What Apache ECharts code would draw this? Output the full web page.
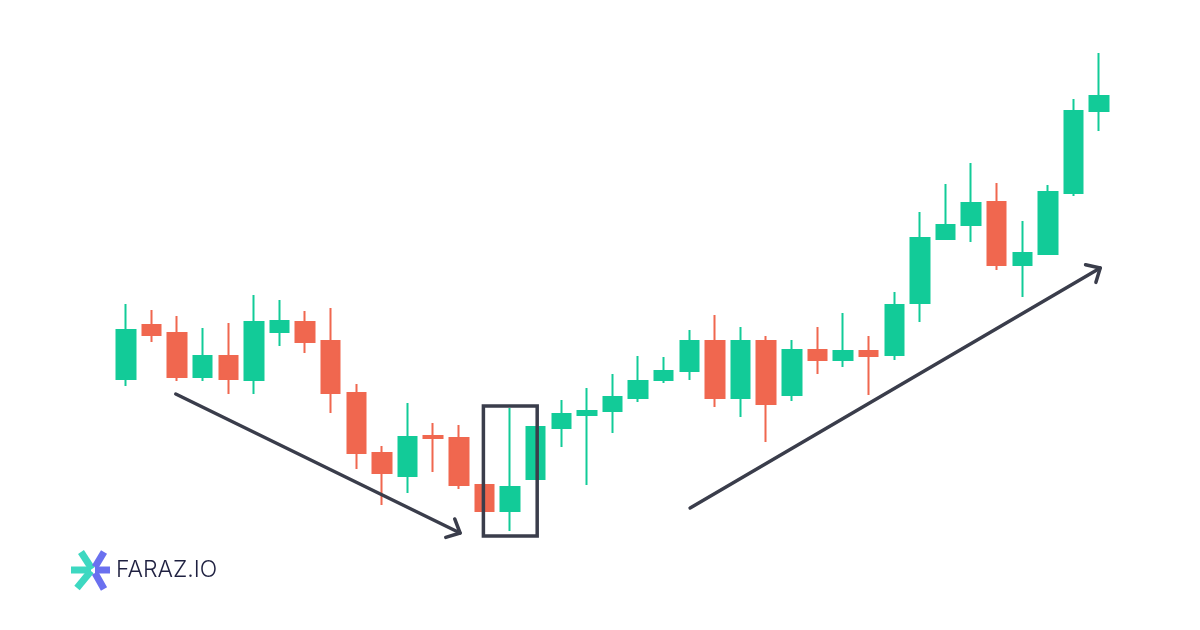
<!DOCTYPE html>
<html>
<head>
<meta charset="utf-8">
<script src="https://cdn.jsdelivr.net/npm/echarts@6/dist/echarts.min.js"></script>
<style>
  html, body { margin: 0; padding: 0; background: #ffffff; }
  #chart { width: 1200px; height: 630px; }
</style>
</head>
<body>
<div id="chart"></div>
<script>
// candles: [open, close, low, high]
var candles = [
  [251, 300, 244, 326], [305, 295, 288, 320], [297, 253, 249, 314], [253, 274, 249, 302],
  [274, 251, 236, 307], [250, 308, 236, 335], [298, 309, 284, 330], [308, 288, 277, 319],
  [289, 237, 217, 322], [237, 177, 161, 246], [177, 157, 125, 184], [154, 193, 137, 227],
  [194, 192, 158, 207], [192, 145, 141, 205], [145, 119, 119, 145], [119, 143, 99, 222],
  [151, 203, 151, 203], [202, 216, 183, 230], [215, 219, 145, 242], [219, 233, 197, 256],
  [232, 249, 228, 274], [250, 259, 247, 273], [259, 289, 250, 300], [289, 232, 223, 315],
  [232, 289, 213, 303], [289, 226, 188, 294], [235, 280, 229, 290], [280, 270, 256, 303],
  [270, 279, 263, 317], [279, 274, 235, 294], [275, 325, 270, 338], [327, 392, 308, 418],
  [391, 405, 391, 446], [405, 427, 388, 467], [428, 365, 360, 447], [365, 377, 333, 409],
  [376, 438, 376, 445], [437, 519, 434, 531], [519, 534, 499, 577]
];
var days = candles.map(function (c, i) { return "D" + (i + 1); });

// annotations in data space: [x1, y1, x2, y2] (x = candle index)
var arrows = [
  [1.95, 236, 13.05, 97],
  [22.03, 122, 38.04, 362]
];
var focusBox = [[13.96, 224, 16.06, 94]];

var upColor = "#12cb98";
var downColor = "#f0674f";
var inkColor = "#3a3d4b";

var chart = echarts.init(document.getElementById("chart"));

chart.setOption({
  backgroundColor: "#ffffff",
  animation: false,
  grid: { left: 113, right: 88, top: 0, bottom: 0 },
  xAxis: [
    { type: "category", data: days, show: false, boundaryGap: true },
    { type: "value", min: -0.5, max: 38.5, show: false }
  ],
  yAxis: { type: "value", min: 0, max: 630, show: false },
  series: [
    {
      type: "candlestick",
      data: candles,
      barWidth: 19,
      itemStyle: {
        color: upColor,
        color0: downColor,
        borderColor: upColor,
        borderColor0: downColor,
        borderWidth: 2
      }
    },
    {
      type: "custom",
      xAxisIndex: 1,
      z: 5,
      data: arrows,
      encode: { x: [0, 2], y: [1, 3] },
      renderItem: function (params, api) {
        var a = api.coord([api.value(0), api.value(1)]);
        var b = api.coord([api.value(2), api.value(3)]);
        var ang = Math.atan2(b[1] - a[1], b[0] - a[0]);
        var len = 15;
        var h1 = [b[0] - len * Math.cos(ang - 0.75), b[1] - len * Math.sin(ang - 0.75)];
        var h2 = [b[0] - len * Math.cos(ang + 0.75), b[1] - len * Math.sin(ang + 0.75)];
        var st = { stroke: inkColor, lineWidth: 3.5, fill: null, lineCap: "round", lineJoin: "round" };
        return {
          type: "group",
          children: [
            { type: "polyline", shape: { points: [a, b] }, style: st },
            { type: "polyline", shape: { points: [h1, b, h2] }, style: st }
          ]
        };
      }
    },
    {
      type: "custom",
      xAxisIndex: 1,
      z: 5,
      data: focusBox,
      encode: { x: [0, 2], y: [1, 3] },
      renderItem: function (params, api) {
        var p1 = api.coord([api.value(0), api.value(1)]);
        var p2 = api.coord([api.value(2), api.value(3)]);
        return {
          type: "rect",
          shape: { x: p1[0], y: p1[1], width: p2[0] - p1[0], height: p2[1] - p1[1] },
          style: { stroke: inkColor, lineWidth: 3.5, fill: null }
        };
      }
    }
  ],
  graphic: [
    // logo mark
    { type: "line", shape: { x1: 71, y1: 570, x2: 91, y2: 570 }, style: { stroke: "#3dd8c1", lineWidth: 7 } },
    { type: "line", shape: { x1: 81, y1: 552, x2: 92, y2: 569 }, style: { stroke: "#3dd8c1", lineWidth: 7 } },
    { type: "line", shape: { x1: 77, y1: 588, x2: 91, y2: 571 }, style: { stroke: "#3dd8c1", lineWidth: 7 } },
    { type: "line", shape: { x1: 95, y1: 570, x2: 110, y2: 570 }, style: { stroke: "#6a70ef", lineWidth: 7 } },
    { type: "line", shape: { x1: 104, y1: 552, x2: 95, y2: 567 }, style: { stroke: "#6a70ef", lineWidth: 7 } },
    { type: "line", shape: { x1: 104, y1: 589, x2: 95, y2: 573 }, style: { stroke: "#6a70ef", lineWidth: 7 } },
    {
      type: "text",
      left: 116,
      top: 559,
      style: {
        text: "FARAZ.IO",
        fill: "#1e2040",
        font: "300 23px Inter, 'Open Sans', sans-serif"
      }
    }
  ]
});
</script>
</body>
</html>
